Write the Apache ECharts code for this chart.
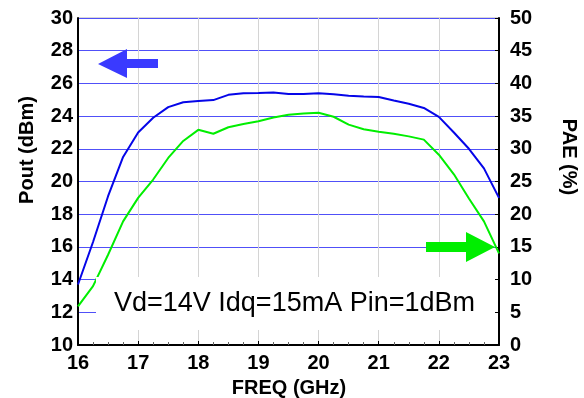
<!DOCTYPE html>
<html>
<head>
<meta charset="utf-8">
<script src="https://cdn.jsdelivr.net/npm/echarts@6/dist/echarts.min.js"></script>
<style>html,body{margin:0;padding:0;background:#fff}#c{width:584px;height:398px}</style>
</head>
<body>
<div id="c"></div>
<script>
var freq = [16.0,16.25,16.5,16.75,17.0,17.25,17.5,17.75,18.0,18.25,18.5,18.75,19.0,19.25,19.5,19.75,20.0,20.25,20.5,20.75,21.0,21.25,21.5,21.75,22.0,22.25,22.5,22.75,23.0];
var pout = [13.7,16.3,19.1,21.5,23.0,23.9,24.55,24.85,24.93,24.98,25.3,25.4,25.42,25.45,25.35,25.35,25.4,25.33,25.25,25.2,25.17,24.95,24.75,24.5,23.95,23.0,22.0,20.8,19.0];
var pae = [5.9,9.0,13.8,18.9,22.5,25.3,28.6,31.2,32.9,32.3,33.3,33.8,34.2,34.8,35.2,35.4,35.5,34.9,33.7,33.0,32.6,32.3,31.9,31.4,29.1,26.1,22.4,18.9,14.0];
var xTicks = [16,17,18,19,20,21,22,23];
var poutTicks = [10,12,14,16,18,20,22,24,26,28,30];
var paeTicks = [0,5,10,15,20,25,30,35,40,45,50];
var noteText = 'Vd=14V Idq=15mA Pin=1dBm';

var labelFont = {fontFamily:'Liberation Sans, Arial, sans-serif', fontWeight:'bold', fontSize:20, color:'#000'};
var chart = echarts.init(document.getElementById('c'), null, {renderer:'canvas'});
chart.setOption({
  animation:false,
  grid:{left:78, right:85, top:18, bottom:53, show:true, borderColor:'#b0b0b0', borderWidth:1},
  xAxis:{type:'value', min:xTicks[0], max:xTicks[xTicks.length-1], interval:1,
    axisLine:{onZero:false, lineStyle:{color:'#000', width:2}},
    axisTick:{show:true, inside:true, length:4, lineStyle:{color:'#000'}},
    minorTick:{show:true, splitNumber:4, length:3, lineStyle:{color:'#666'}},
    axisLabel:Object.assign({margin:8}, labelFont),
    splitLine:{show:true, lineStyle:{color:'#d4d4d4', width:1}}},
  yAxis:[
    {type:'value', min:poutTicks[0], max:poutTicks[poutTicks.length-1], interval:2, position:'left',
     axisLine:{show:true, lineStyle:{color:'#000', width:2}},
     axisTick:{show:false},
     axisLabel:Object.assign({margin:5}, labelFont),
     splitLine:{show:true, lineStyle:{color:'#5050f8', width:1}}},
    {type:'value', min:paeTicks[0], max:paeTicks[paeTicks.length-1], interval:5, position:'right',
     axisLine:{show:true, lineStyle:{color:'#000', width:2}},
     axisTick:{show:true, inside:true, length:4, lineStyle:{color:'#000'}},
     axisLabel:Object.assign({margin:11}, labelFont),
     splitLine:{show:false}}
  ],
  series:[
    {name:'Pout', type:'line', yAxisIndex:0, data:freq.map(function(f,i){return [f,pout[i]];}),
     showSymbol:false, lineStyle:{color:'#0505e8', width:2}, z:3},
    {name:'PAE', type:'line', yAxisIndex:1, data:freq.map(function(f,i){return [f,pae[i]];}),
     showSymbol:false, lineStyle:{color:'#00ee00', width:2}, z:3}
  ],
  graphic:[
    {type:'rect', z:50, shape:{x:96, y:277, width:399, height:53}, style:{fill:'#fff'}},
    {type:'text', z:51, x:294.5, y:304, style:{text:noteText, font:'27px "Liberation Sans", Arial, sans-serif', fill:'#000', textAlign:'center', textVerticalAlign:'middle'}},
    {type:'polygon', z:52, shape:{points:[[98,64],[127,49],[127,59],[158,59],[158,68],[127,68],[127,78]]}, style:{fill:'#3a3aff'}},
    {type:'polygon', z:52, shape:{points:[[495,247],[466,232],[466,242],[426,242],[426,252],[466,252],[466,262]]}, style:{fill:'#00ee00'}},
    {type:'text', z:51, x:27, y:150, rotation:Math.PI/2, style:{text:'Pout (dBm)', font:'bold 20px "Liberation Sans", Arial, sans-serif', fill:'#000', textAlign:'center', textVerticalAlign:'middle'}},
    {type:'text', z:51, x:569, y:157, rotation:-Math.PI/2, style:{text:'PAE (%)', font:'bold 20px "Liberation Sans", Arial, sans-serif', fill:'#000', textAlign:'center', textVerticalAlign:'middle'}},
    {type:'text', z:51, x:289, y:388, style:{text:'FREQ (GHz)', font:'bold 20px "Liberation Sans", Arial, sans-serif', fill:'#000', textAlign:'center', textVerticalAlign:'middle'}}
  ]
});
</script>
</body>
</html>
